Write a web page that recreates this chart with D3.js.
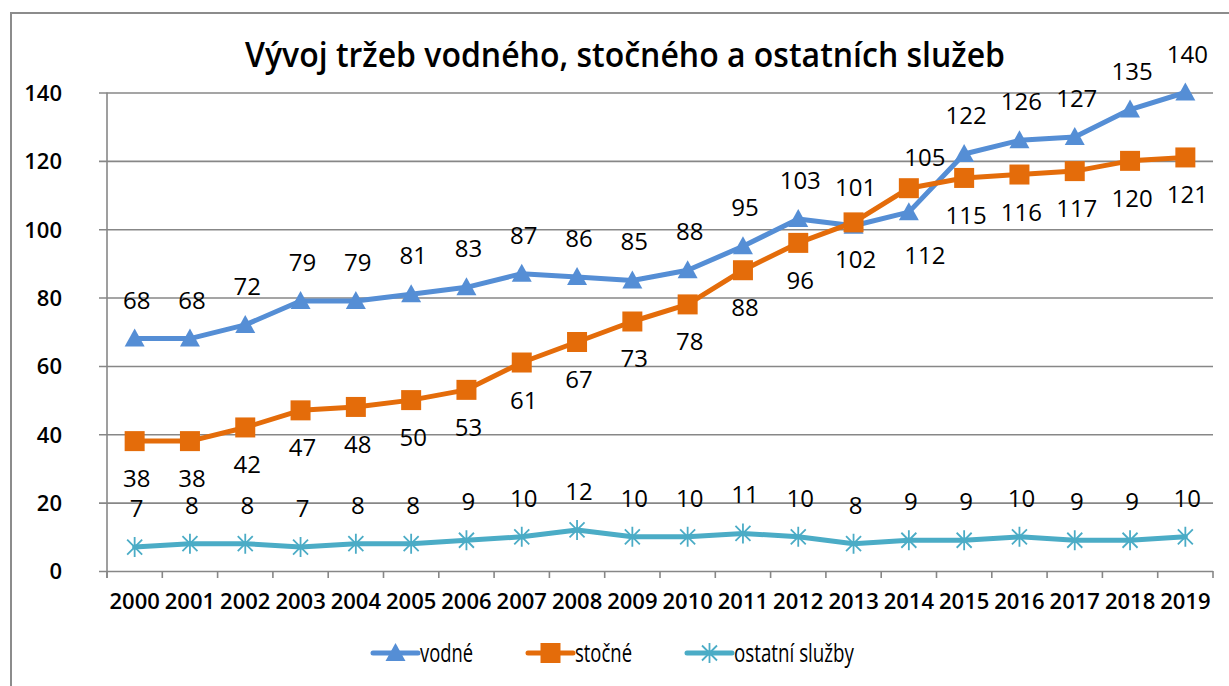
<!DOCTYPE html>
<html><head><meta charset="utf-8">
<script src="https://cdn.jsdelivr.net/npm/d3@7"></script>
<style>
html,body{margin:0;padding:0;background:#fff;}
text{font-family:"Open Sans","Noto Sans",sans-serif;fill:#000;}
</style></head>
<body><svg id="c" width="1229" height="686"></svg>
<script>
const title = "Vývoj tržeb vodného, stočného a ostatních služeb";
const years = ["2000","2001","2002","2003","2004","2005","2006","2007","2008","2009","2010","2011","2012","2013","2014","2015","2016","2017","2018","2019"];
const vodne = [68,68,72,79,79,81,83,87,86,85,88,95,103,101,105,122,126,127,135,140];
const stocne = [38,38,42,47,48,50,53,61,67,73,78,88,96,102,112,115,116,117,120,121];
const ostatni = [7,8,8,7,8,8,9,10,12,10,10,11,10,8,9,9,10,9,9,10];
const yTicks = [0,20,40,60,80,100,120,140];
const seriesNames = ["vodné","stočné","ostatní služby"];

const svg = d3.select("#c");
const L = 107, R = 1213, T = 92.5, B = 571;
const x = d3.scaleBand().domain(years).range([L, R]).padding(0);
const y = d3.scaleLinear().domain([0, 140]).range([B, T]);
const cx = d => x(d) + x.bandwidth() / 2;
const grid = "#878787";
const colors = ["#558ED5", "#E46C0A", "#4BACC6"];

// outer border
svg.append("rect").attr("x", 11).attr("y", 13).attr("width", 1240).attr("height", 700)
  .attr("fill", "none").attr("stroke", "#8c8c8c").attr("stroke-width", 2);

// title
svg.append("text").attr("x", 625).attr("y", 67).attr("text-anchor", "middle")
  .attr("font-size", 34).attr("font-weight", 600).attr("textLength", 760).attr("lengthAdjust", "spacingAndGlyphs").text(title);

// y axis gridlines + labels
const yAxis = d3.axisLeft(y).tickValues(yTicks).tickSizeInner(-(R - 99)).tickSizeOuter(0).tickPadding(37);
const gy = svg.append("g").attr("transform", `translate(99,0)`).call(yAxis);
gy.select(".domain").remove();
gy.selectAll(".tick line").attr("stroke", grid).attr("stroke-width", 1.6);
gy.selectAll(".tick text").attr("font-size", 22).attr("font-weight", 600).attr("font-family", "Open Sans").attr("fill", "#000").attr("dy", "0.36em");

// vertical axis line
svg.append("line").attr("x1", L).attr("x2", L).attr("y1", T).attr("y2", B + 7).attr("stroke", grid).attr("stroke-width", 1.6);

// x axis
const xAxis = d3.axisBottom(x).tickSize(0).tickPadding(22);
const gx = svg.append("g").attr("transform", `translate(0,${B})`).call(xAxis);
gx.select(".domain").remove();
gx.selectAll(".tick text").attr("font-size", 22).attr("font-weight", 600).attr("font-family", "Open Sans").attr("fill", "#000");
const bounds = years.map(d => x(d)).concat([R]);
svg.append("g").selectAll("line").data(bounds).join("line")
  .attr("x1", d => d).attr("x2", d => d).attr("y1", B).attr("y2", B + 7)
  .attr("stroke", grid).attr("stroke-width", 1.6);

// series
const series = [vodne, stocne, ostatni];
const line = d3.line().x((v, i) => cx(years[i])).y(v => y(v));
const triPath = "M0,-10 L10,8 L-10,8 Z";
const sqPath = "M-10,-10 H10 V10 H-10 Z";
const starPath = "M0,-10 V10 M-7.5,-7.5 L7.5,7.5 M-7.5,7.5 L7.5,-7.5";

function marker(g, k, px, py) {
  if (k === 0) g.append("path").attr("d", triPath).attr("transform", `translate(${px},${py})`).attr("fill", colors[0]);
  else if (k === 1) g.append("path").attr("d", sqPath).attr("transform", `translate(${px},${py})`).attr("fill", colors[1]);
  else g.append("path").attr("d", starPath).attr("transform", `translate(${px},${py})`).attr("fill", "none").attr("stroke", colors[2]).attr("stroke-width", 1.8);
}

series.forEach((s, k) => {
  const g = svg.append("g");
  g.append("path").datum(s).attr("d", line).attr("fill", "none").attr("stroke", colors[k])
    .attr("stroke-width", 5).attr("stroke-linejoin", "round").attr("stroke-linecap", "round");
  s.forEach((v, i) => marker(g, k, cx(years[i]), y(v)));
});

// data labels
const lbl = svg.append("g").attr("font-size", 24).attr("text-anchor", "middle");
series.forEach((s, k) => {
  s.forEach((v, i) => {
    let dx = 2, off = (k === 1) ? 46 : -30;
    if (years[i] === "2014" && k === 0) { off = -46.5; dx = 16; }
    if (years[i] === "2014" && k === 1) { off = 75.5; dx = 16; }
    lbl.append("text").attr("x", cx(years[i]) + dx).attr("y", y(v) + off).text(v);
  });
});

// legend
const legX = [373, 528, 687];
const legW = [53, 57, 120];
const lg = svg.append("g");
seriesNames.forEach((n, k) => {
  const x0 = legX[k];
  lg.append("line").attr("x1", x0).attr("x2", x0 + 45).attr("y1", 653).attr("y2", 653)
    .attr("stroke", colors[k]).attr("stroke-width", 5).attr("stroke-linecap", "round");
  marker(lg, k, x0 + 22.5, 653);
  lg.append("text").attr("x", x0 + 47).attr("y", 662).attr("font-size", 25)
    .attr("textLength", legW[k]).attr("lengthAdjust", "spacingAndGlyphs").text(n);
});
</script></body></html>
